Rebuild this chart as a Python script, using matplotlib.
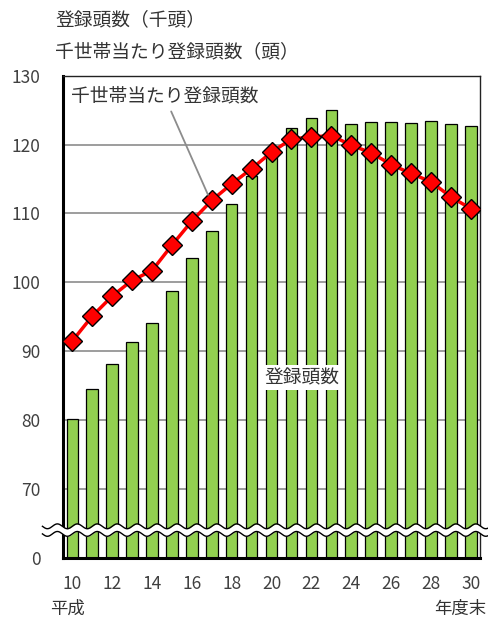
import matplotlib
matplotlib.use('Agg')
import matplotlib.pyplot as plt
import numpy as np

plt.rcParams['font.family'] = ['Noto Sans CJK JP', 'DejaVu Sans']

# 平成10〜30年度末
years = [10, 11, 12, 13, 14, 15, 16, 17, 18, 19, 20,
         21, 22, 23, 24, 25, 26, 27, 28, 29, 30]
# 登録頭数（千頭）
registered = [80.2, 84.5, 88.1, 91.4, 94.1, 98.7, 103.5, 107.4, 111.4, 115.5, 118.6,
              122.4, 123.9, 125.0, 123.0, 123.3, 123.3, 123.1, 123.4, 123.0, 122.7]
# 千世帯当たり登録頭数（頭）
per_household = [91.5, 95.1, 98.0, 100.3, 101.7, 105.4, 108.9, 111.9, 114.3, 116.5, 118.9,
                 120.8, 121.1, 121.3, 119.9, 118.8, 117.1, 115.8, 114.6, 112.4, 110.7]

ytick_vals = [60, 70, 80, 90, 100, 110, 120, 130]
ytick_labels = ['0', '70', '80', '90', '100', '110', '120', '130']
xtick_vals = [10, 12, 14, 16, 18, 20, 22, 24, 26, 28, 30]

base = 60  # 軸の省略（0〜70）
gray = '#404040'

fig = plt.figure(figsize=(4.88, 6.2), dpi=100)
ax = fig.add_axes([0.129, 0.1, 0.855, 0.778])

# 棒グラフ
ax.bar(years, np.array(registered) - base, bottom=base, width=0.58,
       color='#92D050', edgecolor='black', linewidth=0.9, zorder=2)

# 折れ線
ax.plot(years, per_household, color='#FF0000', linewidth=2.5, marker='D',
        markersize=10, markerfacecolor='#FF0000', markeredgecolor='black',
        markeredgewidth=1.0, zorder=4)

ax.set_xlim(9.53, 30.47)
ax.set_ylim(base, 130)
ax.set_yticks(ytick_vals)
ax.set_yticklabels(ytick_labels)
ax.set_xticks(xtick_vals)
ax.tick_params(axis='both', length=0, labelsize=12.5, labelcolor=gray)
ax.tick_params(axis='y', pad=16)
ax.tick_params(axis='x', pad=12)

# 目盛線
for v in ytick_vals[1:-1]:
    ax.axhline(v, color='#8c8c8c', linewidth=1.2, zorder=1)

for side in ['left', 'bottom']:
    ax.spines[side].set_linewidth(2.2)
for side in ['top', 'right']:
    ax.spines[side].set_linewidth(1.0)
    ax.spines[side].set_color('#222222')

# 波線（軸の省略記号）
xs = np.linspace(8.5, 30.85, 800)
wave = 0.35 * np.sin(2 * np.pi * xs / 1.0)
center = 64.05
ax.fill_between(xs, center - 0.55 + wave, center + 0.55 + wave, color='white',
                clip_on=False, zorder=6, linewidth=0)
ax.plot(xs, center + 0.55 + wave, color='black', linewidth=1.0, clip_on=False, zorder=7)
ax.plot(xs, center - 0.55 + wave, color='black', linewidth=1.0, clip_on=False, zorder=7)

# 注記
ax.annotate('千世帯当たり登録頭数', xy=(16.81, 112.7), xytext=(9.95, 127.1),
            ha='left', va='center', fontsize=13.5, color='#333333',
            arrowprops=dict(arrowstyle='-', color='#8c8c8c', linewidth=1.3,
                            shrinkA=2, shrinkB=0, relpos=(0.52, 0.0)),
            zorder=8)
ax.text(21.54, 86.2, '登録頭数', ha='center', va='center', fontsize=13.5,
        color='#333333', zorder=8,
        bbox=dict(facecolor='white', edgecolor='none', pad=1.5))

# 単位など
fig.text(55 / 488, 1 - 20 / 620, '登録頭数（千頭）', ha='left', va='center',
         fontsize=13.5, color='#333333')
fig.text(55 / 488, 1 - 52 / 620, '千世帯当たり登録頭数（頭）', ha='left', va='center',
         fontsize=13.5, color='#333333')
fig.text(50 / 488, 1 - 609 / 620, '平成', ha='left', va='center',
         fontsize=12.5, color='#333333')
fig.text(486 / 488, 1 - 609 / 620, '年度末', ha='right', va='center',
         fontsize=12.5, color='#333333')

fig.savefig('out.png', dpi=100)
